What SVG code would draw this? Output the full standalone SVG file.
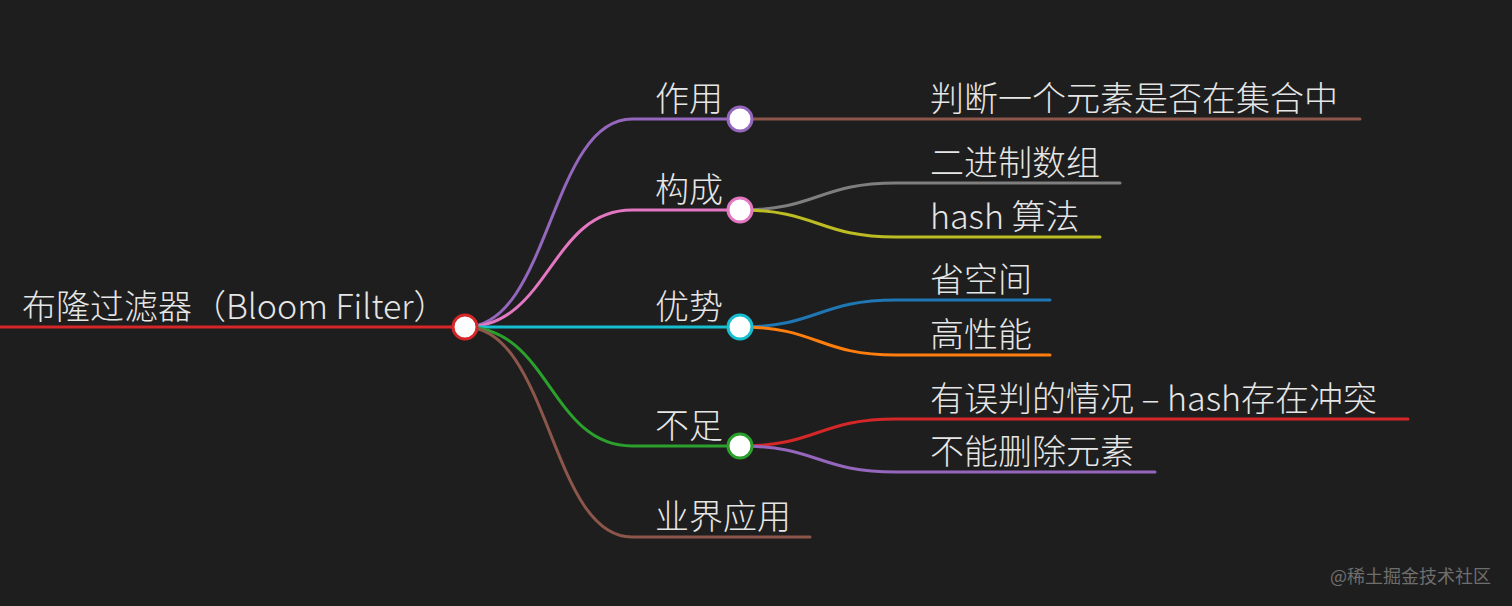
<svg xmlns="http://www.w3.org/2000/svg" width="1512" height="606" viewBox="0 0 1512 606">
<style>
.t{font-family:"Noto Sans CJK SC","Noto Sans",sans-serif;font-size:34px;fill:#e6e6e6;font-weight:300}
.l{fill:none;stroke-width:3;stroke-linecap:round}
.c{fill:#ffffff;stroke-width:3}
.wm{font-family:"Noto Sans CJK SC",sans-serif;font-size:18px;fill:#6e6e6e}
</style>
<rect x="0" y="0" width="1512" height="606" fill="#1e1e1e"/>
<g id="connectors">
<path class="l" stroke="#d62728" d="M0,327 L465,327"/>
<path class="l" stroke="#9467bd" d="M465,327 C550,327 550,119 632,119 L740,119"/>
<path class="l" stroke="#e377c2" d="M465,327 C550,327 550,210 632,210 L740,210"/>
<path class="l" stroke="#17becf" d="M465,327 L740,327"/>
<path class="l" stroke="#2ca02c" d="M465,327 C550,327 550,446 632,446 L740,446"/>
<path class="l" stroke="#8c564b" d="M465,327 C550,327 550,537 632,537 L810,537"/>
<path class="l" stroke="#8c564b" d="M740,119 L1360,119"/>
<path class="l" stroke="#7f7f7f" d="M740,210 C818,210 818,183 896,183 L1120,183"/>
<path class="l" stroke="#bcbd22" d="M740,210 C818,210 818,237 896,237 L1100,237"/>
<path class="l" stroke="#1f77b4" d="M740,327 C818,327 818,300 896,300 L1050,300"/>
<path class="l" stroke="#ff7f0e" d="M740,327 C818,327 818,355 896,355 L1050,355"/>
<path class="l" stroke="#d62728" d="M740,446 C818,446 818,419 896,419 L1408,419"/>
<path class="l" stroke="#9467bd" d="M740,446 C818,446 818,472 896,472 L1155,472"/>
</g>
<g id="root">
<text class="t" x="22" y="319">布隆过滤器（Bloom Filter）</text>
<circle class="c" cx="465" cy="327" r="12" stroke="#d62728"/>
</g>
<g id="n-zuoyong">
<text class="t" x="655" y="111">作用</text>
<circle class="c" cx="740" cy="119" r="12" stroke="#9467bd"/>
</g>
<g id="n-goucheng">
<text class="t" x="655" y="202">构成</text>
<circle class="c" cx="740" cy="210" r="12" stroke="#e377c2"/>
</g>
<g id="n-youshi">
<text class="t" x="655" y="319">优势</text>
<circle class="c" cx="740" cy="327" r="12" stroke="#17becf"/>
</g>
<g id="n-buzu">
<text class="t" x="655" y="438">不足</text>
<circle class="c" cx="740" cy="446" r="12" stroke="#2ca02c"/>
</g>
<g id="n-yingyong">
<text class="t" x="655" y="529">业界应用</text>
</g>
<g id="n-panduan"><text class="t" x="930" y="111">判断一个元素是否在集合中</text></g>
<g id="n-erjinzhi"><text class="t" x="930" y="175">二进制数组</text></g>
<g id="n-hash"><text class="t" x="930" y="229">hash 算法</text></g>
<g id="n-kongjian"><text class="t" x="930" y="292">省空间</text></g>
<g id="n-xingneng"><text class="t" x="930" y="347">高性能</text></g>
<g id="n-wupan"><text class="t" x="930" y="411">有误判的情况 – hash存在冲突</text></g>
<g id="n-shanchu"><text class="t" x="930" y="464">不能删除元素</text></g>
<text class="wm" x="1330" y="583">@稀土掘金技术社区</text>
</svg>
